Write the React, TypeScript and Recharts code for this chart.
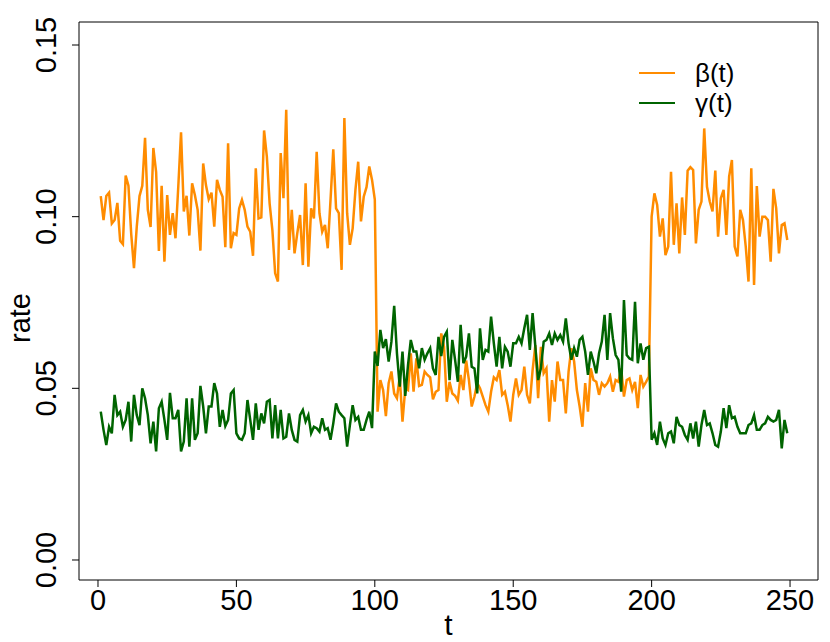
import React from 'react';
import { LineChart, Line, XAxis, YAxis, ReferenceArea } from 'recharts';

// beta(t): infection rate, t = 1..249
const beta = [
  0.106, 0.099, 0.106, 0.107, 0.098, 0.099, 0.104, 0.093, 0.092, 0.112, 0.109, 0.095, 0.085, 0.097, 0.106, 0.109, 0.123, 0.102, 0.097, 0.120, 0.113, 0.090, 0.109,
  0.0869, 0.1063, 0.0947, 0.1010, 0.0937, 0.1087, 0.1246, 0.1015, 0.1061, 0.0945, 0.1097, 0.1063, 0.1020, 0.0901, 0.1155, 0.1092, 0.1051, 0.1070, 0.0971, 0.1107, 0.1078, 0.1058, 0.0911, 0.1214, 0.0908,
  0.0952, 0.0947, 0.1024, 0.1049, 0.1020, 0.0971, 0.0956, 0.0886, 0.1141, 0.0995, 0.0998, 0.1251, 0.1175, 0.1039, 0.0961, 0.0835, 0.0811, 0.1185, 0.1054, 0.1311, 0.0903, 0.1020, 0.0893, 0.0952, 0.1005, 0.0859,
  0.1097, 0.0854, 0.1024, 0.0995, 0.1189, 0.1010, 0.0956, 0.0976, 0.0908, 0.1049, 0.1196, 0.1024, 0.1010, 0.0845, 0.1287, 0.1010, 0.0918, 0.0966, 0.1078, 0.1160, 0.0986, 0.1058, 0.1086, 0.1146, 0.1107,
  0.1050,
  0.0432, 0.0524, 0.0495, 0.0419, 0.0515, 0.0549, 0.0485, 0.0471, 0.0534, 0.0403, 0.0500, 0.0495, 0.0602, 0.0490, 0.0587, 0.0507, 0.0510, 0.0549, 0.0539, 0.0532, 0.0468, 0.0490, 0.0495, 0.0660,
  0.0621, 0.0461, 0.0519, 0.0485, 0.0478, 0.0464, 0.0539, 0.0495, 0.0581, 0.0524, 0.0447, 0.0476, 0.0515, 0.0500, 0.0476, 0.0451, 0.0432, 0.0490, 0.0532, 0.0524, 0.0553, 0.0481, 0.0490, 0.0451, 0.0403, 0.0481,
  0.0529, 0.0481, 0.0495, 0.0563, 0.0481, 0.0456, 0.0553, 0.0626, 0.0471, 0.0621, 0.0544, 0.0558, 0.0403, 0.0524, 0.0461, 0.0578, 0.0524, 0.0524, 0.0427, 0.0549, 0.0617, 0.0578, 0.0495, 0.0447, 0.0388,
  0.0515, 0.0432, 0.0558, 0.0524, 0.0519, 0.0481, 0.0515, 0.0505, 0.0515, 0.0534, 0.0490, 0.0524, 0.0519, 0.0558, 0.0476, 0.0524, 0.0529, 0.0495, 0.0519, 0.0442, 0.0539, 0.0505, 0.0519, 0.0534,
  0.1000, 0.1068, 0.1034, 0.0942, 0.0995, 0.0888, 0.0913, 0.1131, 0.0918, 0.1039, 0.0893, 0.1056, 0.0947, 0.1134, 0.1144, 0.1136, 0.0922, 0.1020, 0.1044, 0.1257, 0.1087, 0.1044, 0.1015, 0.1134, 0.0942,
  0.1054, 0.1078, 0.0947, 0.1117, 0.1165, 0.0913, 0.0884, 0.1020, 0.0990, 0.0913, 0.0811, 0.1141, 0.0801, 0.1089, 0.0942, 0.1000, 0.1000, 0.0990, 0.0869, 0.1081, 0.1024, 0.0893, 0.0976, 0.0981, 0.0932,
];

// gamma(t): recovery rate, t = 1..249
const gamma = [
  0.0432, 0.0379, 0.0335, 0.0388, 0.0369, 0.0481, 0.0422, 0.0432, 0.0388, 0.0408, 0.0461, 0.0345, 0.0481, 0.0422, 0.0393, 0.0500, 0.0471, 0.0422, 0.0340, 0.0403, 0.0316, 0.0442, 0.0461,
  0.0408, 0.0350, 0.0487, 0.0413, 0.0413, 0.0437, 0.0316, 0.0345, 0.0471, 0.0330, 0.0471, 0.0350, 0.0369, 0.0507, 0.0447, 0.0369, 0.0447, 0.0447, 0.0515, 0.0485, 0.0388, 0.0437, 0.0390, 0.0408, 0.0485,
  0.0495, 0.0369, 0.0354, 0.0350, 0.0369, 0.0466, 0.0408, 0.0350, 0.0456, 0.0379, 0.0427, 0.0398, 0.0461, 0.0466, 0.0354, 0.0451, 0.0354, 0.0437, 0.0354, 0.0359, 0.0427, 0.0379, 0.0350, 0.0345, 0.0422, 0.0437,
  0.0403, 0.0422, 0.0369, 0.0388, 0.0384, 0.0374, 0.0413, 0.0379, 0.0384, 0.0350, 0.0398, 0.0456, 0.0432, 0.0422, 0.0413, 0.0330, 0.0393, 0.0451, 0.0408, 0.0417, 0.0379, 0.0379, 0.0408, 0.0432, 0.0384,
  0.0607,
  0.0565, 0.0670, 0.0617, 0.0643, 0.0578, 0.0636, 0.0740, 0.0602, 0.0505, 0.0607, 0.0478, 0.0568, 0.0641, 0.0607, 0.0607, 0.0558, 0.0617, 0.0583, 0.0602, 0.0617, 0.0558, 0.0539, 0.0650, 0.0594,
  0.0650, 0.0665, 0.0524, 0.0641, 0.0583, 0.0519, 0.0685, 0.0573, 0.0592, 0.0660, 0.0563, 0.0558, 0.0485, 0.0675, 0.0583, 0.0612, 0.0607, 0.0709, 0.0631, 0.0563, 0.0650, 0.0558, 0.0621, 0.0607, 0.0563, 0.0631,
  0.0631, 0.0650, 0.0631, 0.0675, 0.0714, 0.0612, 0.0719, 0.0621, 0.0524, 0.0558, 0.0636, 0.0641, 0.0660, 0.0626, 0.0660, 0.0641, 0.0655, 0.0636, 0.0704, 0.0631, 0.0583, 0.0617, 0.0592, 0.0641, 0.0650,
  0.0607, 0.0539, 0.0607, 0.0578, 0.0544, 0.0602, 0.0636, 0.0714, 0.0583, 0.0719, 0.0646, 0.0597, 0.0583, 0.0490, 0.0757, 0.0597, 0.0587, 0.0583, 0.0752, 0.0573, 0.0631, 0.0583, 0.0617, 0.0621,
  0.0350, 0.0369, 0.0335, 0.0403, 0.0354, 0.0335, 0.0369, 0.0374, 0.0340, 0.0417, 0.0393, 0.0388, 0.0364, 0.0350, 0.0398, 0.0354, 0.0403, 0.0330, 0.0393, 0.0437, 0.0393, 0.0398, 0.0369, 0.0335, 0.0330,
  0.0374, 0.0442, 0.0384, 0.0451, 0.0413, 0.0417, 0.0388, 0.0369, 0.0369, 0.0369, 0.0393, 0.0398, 0.0422, 0.0379, 0.0379, 0.0393, 0.0398, 0.0417, 0.0408, 0.0403, 0.0408, 0.0437, 0.0325, 0.0408, 0.0369,
];

const xTicks = [0, 50, 100, 150, 200, 250];
const yTicks = [0, 0.05, 0.1, 0.15];

const series = [
  { key: 'beta', name: 'β(t)', color: '#FF8C00' },
  { key: 'gamma', name: 'γ(t)', color: '#006400' },
];

const data = beta.map((b, i) => ({ t: i + 1, beta: b, gamma: gamma[i] }));

const FONT = '"Liberation Sans", Arial, Helvetica, sans-serif';
const X_DOMAIN: [number, number] = [-6.86, 260.1];
const Y_DOMAIN: [number, number] = [-0.00583, 0.1567];

const XTick = (props: any) => {
  const { x, y, payload } = props;
  return (
    <text x={x} y={y} dy="0.71em" textAnchor="middle" fontSize={29} fill="#000" fontFamily={FONT}>
      {payload.value}
    </text>
  );
};

const YTick = (props: any) => {
  const { x, y, payload } = props;
  return (
    <text
      transform={`translate(${x - 24},${y}) rotate(-90)`}
      dy="0.35em"
      textAnchor="middle"
      fontSize={29}
      fill="#000"
      fontFamily={FONT}
    >
      {payload.value.toFixed(2)}
    </text>
  );
};

export default function App() {
  return (
    <div style={{ position: 'relative', width: 814, height: 634, fontFamily: FONT }}>
      <LineChart width={814} height={634} data={data} margin={{ top: 14, right: 4, bottom: 0, left: 0 }}>
        <XAxis
          type="number"
          dataKey="t"
          domain={X_DOMAIN}
          ticks={xTicks}
          interval={0}
          allowDataOverflow
          axisLine={false}
          tickLine={{ stroke: '#000', strokeWidth: 1 }}
          tickSize={7}
          height={62}
          tick={<XTick />}
          label={(p: any) => {
            const vb = p.viewBox;
            return (
              <text x={vb.x + vb.width / 2} y={vb.y + 55} textAnchor="middle" fontSize={30} fill="#000" fontFamily={FONT}>
                t
              </text>
            );
          }}
        />
        <YAxis
          type="number"
          domain={Y_DOMAIN}
          ticks={yTicks}
          interval={0}
          allowDataOverflow
          axisLine={false}
          tickLine={{ stroke: '#000', strokeWidth: 1 }}
          tickSize={7}
          width={71}
          tick={<YTick />}
          label={(p: any) => {
            const vb = p.viewBox;
            return (
              <text
                transform={`translate(${vb.x + 12},${vb.y + vb.height / 2 + 17}) rotate(-90)`}
                dy="0.35em"
                textAnchor="middle"
                fontSize={29}
                fill="#000"
                fontFamily={FONT}
              >
                rate
              </text>
            );
          }}
        />
        <ReferenceArea
          x1={X_DOMAIN[0]}
          x2={X_DOMAIN[1]}
          y1={Y_DOMAIN[0]}
          y2={Y_DOMAIN[1]}
          fill="none"
          stroke="#000"
          strokeWidth={1}
          ifOverflow="visible"
        />
        {series.map((s) => (
          <Line
            key={s.key}
            type="linear"
            dataKey={s.key}
            name={s.name}
            stroke={s.color}
            strokeWidth={2.5}
            dot={false}
            isAnimationActive={false}
          />
        ))}
      </LineChart>
      {/* legend, no frame, top-right inside the plot */}
      <div style={{ position: 'absolute', top: 50, left: 631 }}>
        {series.map((s) => (
          <div key={s.key} style={{ display: 'flex', alignItems: 'center', height: 30 }}>
            <div style={{ width: 36, height: 2.5, background: s.color }} />
            <span style={{ marginLeft: 20, fontSize: 26, color: '#000', lineHeight: '30px' }}>{s.name}</span>
          </div>
        ))}
      </div>
    </div>
  );
}
